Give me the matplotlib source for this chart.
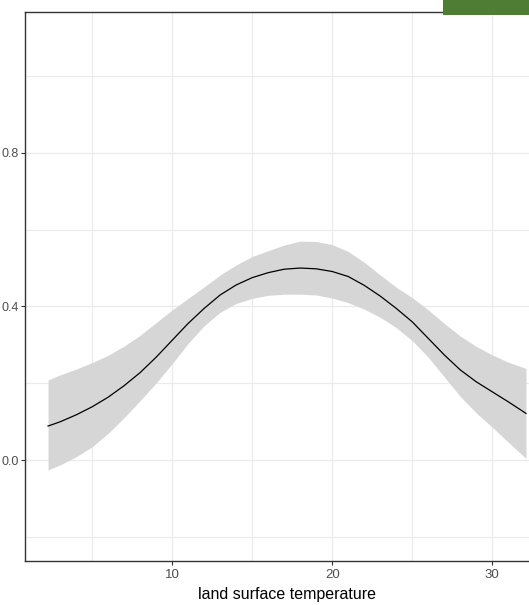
import numpy as np
import matplotlib
matplotlib.use("Agg")
import matplotlib.pyplot as plt
from matplotlib.patches import Rectangle

plt.rcParams['font.family'] = ['Liberation Sans', 'DejaVu Sans']

# values (smooth fit with confidence band)
temp = [2.25, 3, 4, 5, 6, 7, 8, 9, 10, 11, 12, 13, 14, 15, 16, 17, 18,
        19, 20, 21, 22, 23, 24, 25, 26, 27, 28, 29, 30, 31, 32.1]
fit = [0.089, 0.100, 0.118, 0.139, 0.164, 0.194, 0.228, 0.268, 0.312, 0.356,
       0.395, 0.430, 0.456, 0.475, 0.488, 0.497, 0.500, 0.498, 0.491, 0.478,
       0.455, 0.427, 0.395, 0.360, 0.317, 0.274, 0.235, 0.204, 0.178, 0.152,
       0.122]
upper = [0.209, 0.222, 0.237, 0.254, 0.273, 0.297, 0.325, 0.358, 0.391, 0.421,
         0.451, 0.482, 0.508, 0.530, 0.545, 0.560, 0.570, 0.569, 0.561, 0.543,
         0.515, 0.482, 0.450, 0.423, 0.391, 0.356, 0.323, 0.296, 0.274, 0.255,
         0.239]
lower = [-0.025, -0.012, 0.009, 0.035, 0.070, 0.111, 0.155, 0.201, 0.251, 0.304,
         0.350, 0.385, 0.408, 0.421, 0.429, 0.432, 0.432, 0.430, 0.422, 0.410,
         0.393, 0.372, 0.345, 0.311, 0.268, 0.217, 0.166, 0.123, 0.086, 0.047,
         0.005]

x_ticks = [10, 20, 30]
x_minor = [5, 15, 25]
y_ticks = [0.0, 0.4, 0.8]
y_labels = ["0.0", "0.4", "0.8"]
y_minor = [-0.2, 0.2, 0.6, 1.0]

W, H = 529, 605
fig = plt.figure(figsize=(W / 100, H / 100), dpi=100)
# panel runs past the right edge of the picture (cropped like the original)
ax = fig.add_axes([25 / W, 44 / H, (549 - 25) / W, (561 - 12) / H])

ax.fill_between(temp, lower, upper, color="#D6D6D6", linewidth=0, zorder=2)
ax.plot(temp, fit, color="black", linewidth=0.9, zorder=3)

ax.set_xlim(0.81, 33.54)
ax.set_ylim(-0.262, 1.166)

ax.set_xticks(x_ticks)
ax.set_xticks(x_minor, minor=True)
ax.set_yticks(y_ticks)
ax.set_yticklabels(y_labels)
ax.set_yticks(y_minor, minor=True)

ax.grid(which="major", color="#EBEBEB", linewidth=1.0, zorder=0)
ax.grid(which="minor", color="#EBEBEB", linewidth=0.8, zorder=0)
ax.set_axisbelow(True)

ax.tick_params(which="major", length=3, width=0.8, color="#333333",
               labelcolor="#4D4D4D", labelsize=9.5, pad=3)
ax.tick_params(axis="y", which="major", labelsize=9, pad=1.2)
ax.tick_params(which="minor", length=0)

for sp in ax.spines.values():
    sp.set_color("#333333")
    sp.set_linewidth(1.0)

ax.set_xlabel("land surface temperature", fontsize=11.5, color="black", labelpad=4)

# green block at top right (cut-off legend key)
fig.patches.append(Rectangle((443 / W, 1 - 15 / H), 86 / W, 15 / H,
                             transform=fig.transFigure, facecolor="#4F7D33",
                             edgecolor="none", zorder=10))

fig.savefig("out.png", dpi=100)
